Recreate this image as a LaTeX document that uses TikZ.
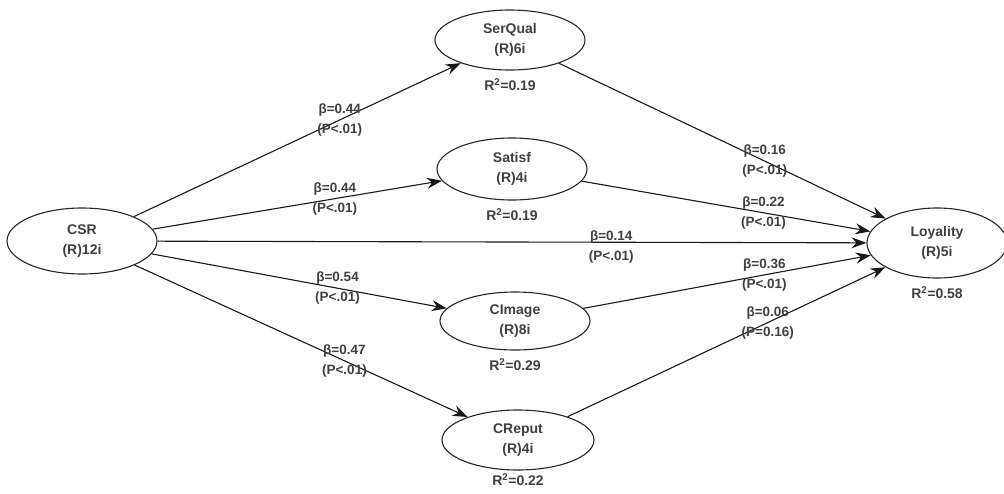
\documentclass[tikz,border=0pt]{standalone}
\usepackage{fontspec}
\setmainfont{Liberation Sans}
\usetikzlibrary{positioning,arrows.meta,shapes.geometric}

\tikzset{
  lv/.style={ellipse,draw=black!85,line width=1.1pt,minimum width=150pt,minimum height=62pt,
    inner sep=0pt,align=center,font=\fontsize{14}{20}\selectfont\bfseries,text=black!75},
  link/.style={black!90,line width=1.1pt,-{Stealth[length=15pt,width=11pt,inset=5pt]}},
  coef/.style={pos=0.63,align=center,inner sep=0pt,font=\fontsize{13.5}{20}\selectfont\bfseries,text=black!75},
  rsq/.style={inner sep=0pt,font=\fontsize{14}{16}\selectfont\bfseries,text=black!75}
}

\begin{document}
\begin{tikzpicture}[x=1pt,y=-1pt]
  \useasboundingbox (0,0) rectangle (1004,493);

  % constructs
  \node [lv,minimum height=66pt] (csr) at (82,241) {CSR\\(R)12i};
  \node [lv,minimum height=60pt] (serqual) at (510,40) {SerQual\\(R)6i};
  \node [lv] (satisf) at (512,169) {Satisf\\(R)4i};
  \node [lv,minimum height=58pt] (cimage) at (515,321) {CImage\\(R)8i};
  \node [lv,minimum width=152pt,minimum height=60pt] (creput) at (518,440) {CReput\\(R)4i};
  \node [lv,minimum width=140pt,minimum height=70pt] (loyal) at (937,243) {Loyality\\(R)5i};

  % R squared
  \node [rsq,below=8pt of serqual] (r2serqual) {R\textsuperscript{2}=0.19};
  \node [rsq,below=8pt of satisf] (r2satisf) {R\textsuperscript{2}=0.19};
  \node [rsq,below=8pt of cimage] (r2cimage) {R\textsuperscript{2}=0.29};
  \node [rsq,below=3pt of creput] (r2creput) {R\textsuperscript{2}=0.22};
  \node [rsq,below=8pt of loyal] (r2loyal) {R\textsuperscript{2}=0.58};

  % paths
  \draw [link] (csr) to node[coef] {β=0.44\\(P<.01)} (serqual);
  \draw [link] (csr) to node[coef] {β=0.44\\(P<.01)} (satisf);
  \draw [link] (csr) to node[coef,pos=0.64,yshift=-5pt] {β=0.14\\(P<.01)} (loyal);
  \draw [link] (csr) to node[coef] {β=0.54\\(P<.01)} (cimage);
  \draw [link] (csr) to node[coef] {β=0.47\\(P<.01)} (creput);
  \draw [link] (serqual) to node[coef] {β=0.16\\(P<.01)} (loyal);
  \draw [link] (satisf) to node[coef] {β=0.22\\(P<.01)} (loyal);
  \draw [link] (cimage) to node[coef] {β=0.36\\(P<.01)} (loyal);
  \draw [link] (creput) to node[coef] {β=0.06\\(P=0.16)} (loyal);
\end{tikzpicture}
\end{document}
